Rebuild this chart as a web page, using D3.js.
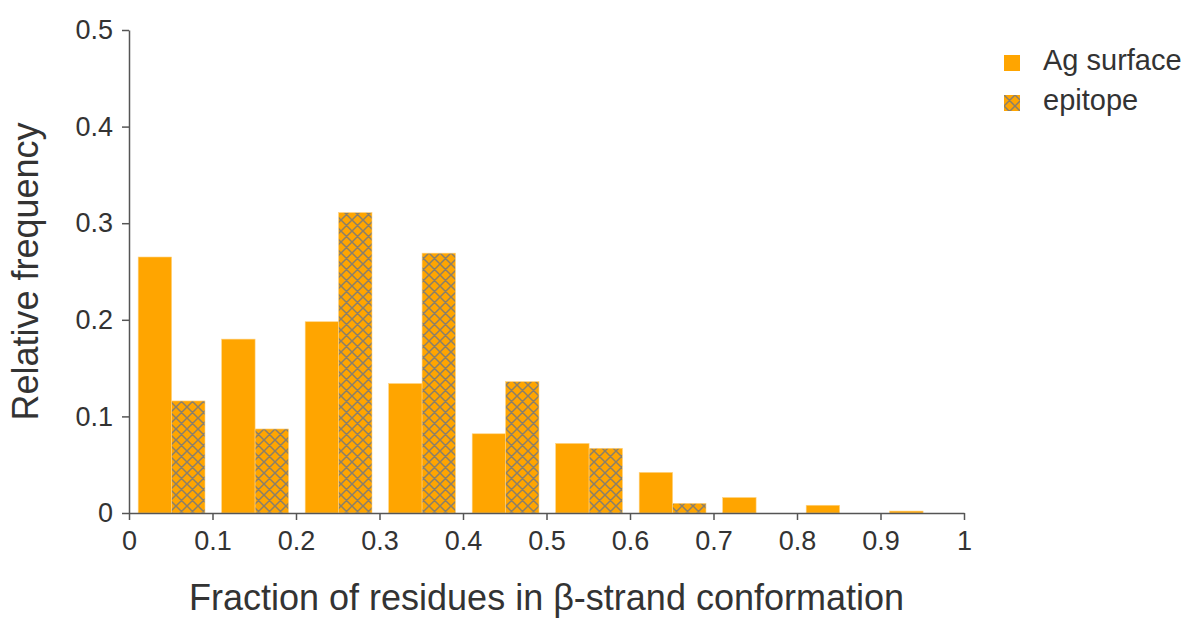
<!DOCTYPE html>
<meta charset="utf-8">
<script src="https://d3js.org/d3.v7.min.js"></script>
<style>
body { margin: 0; background: #fff; }
text { font-family: "Liberation Sans", Arial, sans-serif; fill: #333; }
.axis path, .axis line { stroke: #555; stroke-width: 1.5px; }
.axis text { font-size: 27px; fill: #333; }
</style>
<body></body>
<script>
// ---- data ----
const bins = [0, 0.1, 0.2, 0.3, 0.4, 0.5, 0.6, 0.7, 0.8, 0.9];
const agSurface = [0.265, 0.180, 0.198, 0.134, 0.082, 0.072, 0.042, 0.016, 0.008, 0.002];
const epitope   = [0.116, 0.087, 0.311, 0.269, 0.136, 0.067, 0.010, 0, 0, 0];
const seriesNames = ["Ag surface", "epitope"];
const xTicks = [0, 0.1, 0.2, 0.3, 0.4, 0.5, 0.6, 0.7, 0.8, 0.9, 1];
const yTicks = [0, 0.1, 0.2, 0.3, 0.4, 0.5];

const width = 1190, height = 619;
const margin = {top: 30, right: 226, bottom: 106, left: 129};
const binWidth = 0.1;
const orange = "#FFA500";

const svg = d3.select("body").append("svg")
  .attr("width", width)
  .attr("height", height);

// cross hatch for the epitope bars
const defs = svg.append("defs");
const pat = defs.append("pattern")
  .attr("id", "hatch")
  .attr("patternUnits", "userSpaceOnUse")
  .attr("width", 11)
  .attr("height", 11);
pat.append("rect").attr("width", 11).attr("height", 11).attr("fill", orange);
pat.append("path")
  .attr("d", "M0,0L11,11M11,0L0,11M-1,10L1,12M10,-1L12,1M-1,1L1,-1M10,12L12,10")
  .attr("stroke", "#8a7f6a")
  .attr("stroke-width", 1.5);

const x = d3.scaleLinear().domain([0, 1]).range([margin.left, width - margin.right]);
const y = d3.scaleLinear().domain([0, 0.5]).range([height - margin.bottom, margin.top]);

// sub-band within each bin
const sub = d3.scaleBand().domain(seriesNames).range([0.11, 0.91]).paddingInner(0);

const rows = bins.map((b, i) => ({bin: b, vals: [agSurface[i], epitope[i]]}));

const g = svg.append("g");
rows.forEach(r => {
  r.vals.forEach((v, k) => {
    if (v <= 0) return;
    const x0 = x(r.bin + binWidth * sub(seriesNames[k]));
    const x1 = x(r.bin + binWidth * (sub(seriesNames[k]) + sub.bandwidth()));
    g.append("rect")
      .attr("x", x0)
      .attr("y", y(v))
      .attr("width", x1 - x0)
      .attr("height", y(0) - y(v))
      .attr("fill", k === 0 ? orange : "url(#hatch)")
      .attr("stroke", "#ffd27f")
      .attr("stroke-width", 0.6);
  });
});

// axes
const fmt = d => d === 0 ? "0" : d === 1 ? "1" : d3.format(".1f")(d);
svg.append("g")
  .attr("class", "axis")
  .attr("transform", `translate(0,${y(0)})`)
  .call(d3.axisBottom(x).tickValues(xTicks).tickFormat(fmt).tickSize(7).tickPadding(11).tickSizeOuter(0))
  .selectAll("line").attr("stroke", "#777");

svg.append("g")
  .attr("class", "axis")
  .attr("transform", `translate(${x(0)},0)`)
  .call(d3.axisLeft(y).tickValues(yTicks).tickFormat(fmt).tickSize(7).tickPadding(9).tickSizeOuter(0))
  .selectAll("line").attr("stroke", "#777");

// axis titles
svg.append("text")
  .attr("x", (x(0) + x(1)) / 2)
  .attr("y", 610)
  .attr("text-anchor", "middle")
  .style("font-size", "36px")
  .text("Fraction of residues in β-strand conformation");

svg.append("text")
  .attr("transform", `translate(38,${(y(0) + y(0.5)) / 2}) rotate(-90)`)
  .attr("text-anchor", "middle")
  .style("font-size", "36px")
  .text("Relative frequency");

// legend
const leg = svg.append("g").attr("transform", "translate(1004,55)");
seriesNames.forEach((name, k) => {
  const row = leg.append("g").attr("transform", `translate(0,${k * 40})`);
  row.append("rect")
    .attr("width", 16).attr("height", 16)
    .attr("fill", k === 0 ? orange : "url(#hatch)");
  row.append("text")
    .attr("x", 39).attr("y", 15)
    .style("font-size", "29px")
    .text(name);
});
</script>
